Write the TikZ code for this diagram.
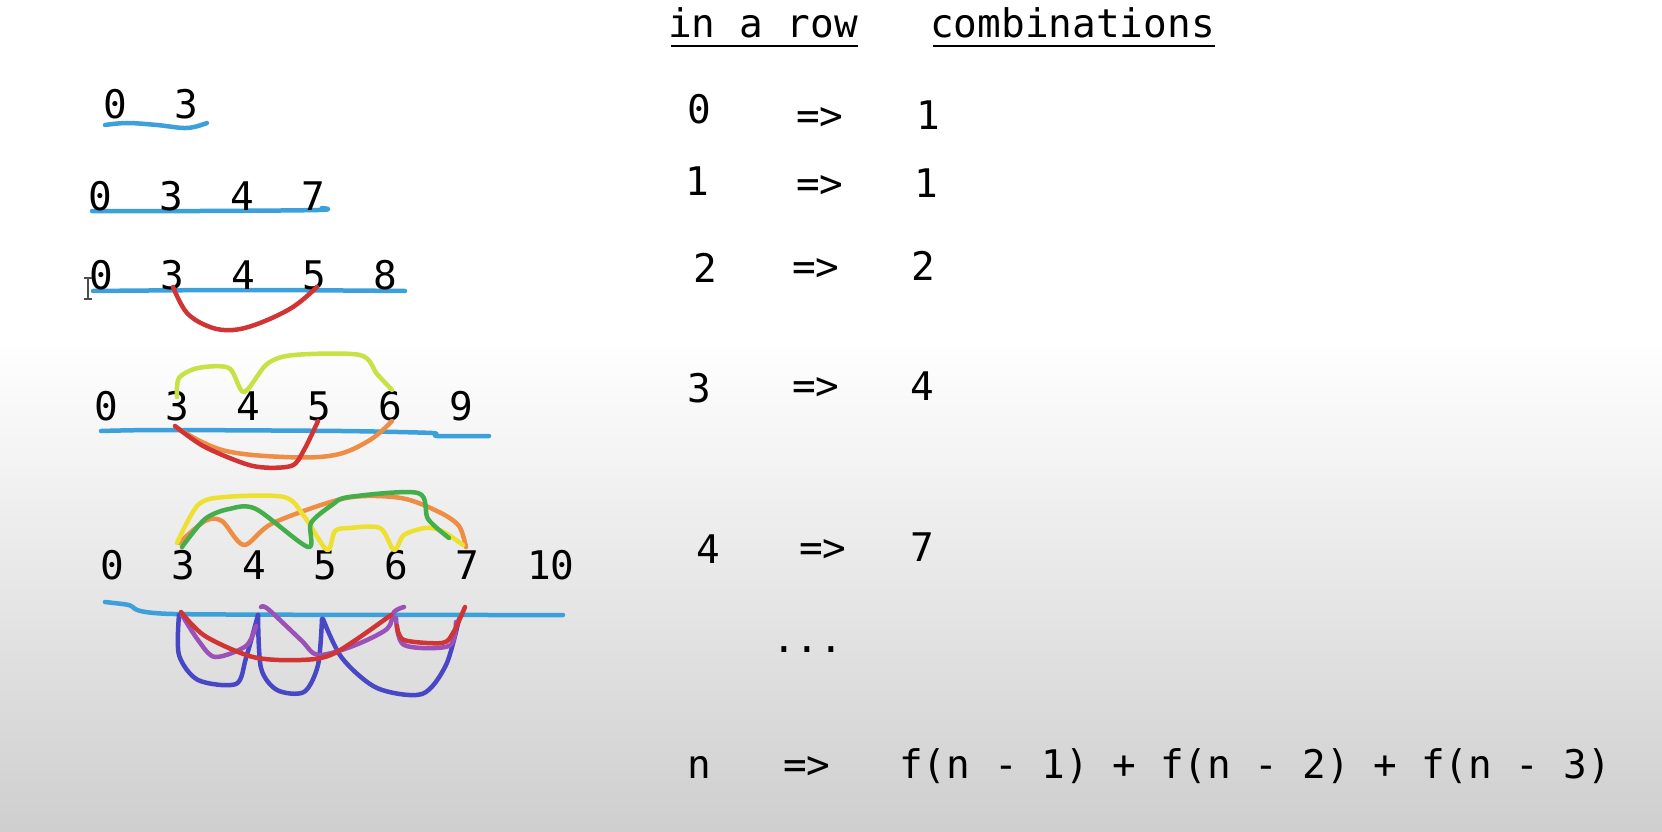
\documentclass[tikz,border=0pt]{standalone}
\usepackage{fontspec}
\newfontfamily\mono{DejaVu Sans Mono}
\definecolor{lblue}{HTML}{3CA0DA}
\definecolor{pred}{HTML}{D03434}
\definecolor{plime}{HTML}{C6E244}
\definecolor{porange}{HTML}{EE8E46}
\definecolor{pyellow}{HTML}{EEE030}
\definecolor{pgreen}{HTML}{44AE4A}
\definecolor{ppurple}{HTML}{9A52B6}
\definecolor{pviolet}{HTML}{4848C6}
\begin{document}
\begin{tikzpicture}[x=1pt,y=-1pt,
  txt/.style={font=\mono\fontsize{39.4}{47}\selectfont, inner sep=0pt, anchor=base west},
  ink/.style={line width=4.5pt, line cap=round, line join=round},
  uline/.style={line width=2.5pt}]
\useasboundingbox (0,0) rectangle (1662,832);
\fill[white] (0,0) rectangle (1662,341);
\shade[top color=white, bottom color=black!19] (0,340) rectangle (1662,832);

% blue base lines
\draw[ink, lblue] plot[smooth, tension=0.6] coordinates {(105,125) (127,123) (157,125) (187,128) (207,123)};
\draw[ink, lblue] plot[smooth, tension=0.6] coordinates {(92,211) (200,211) (318,210) (322,208)};
\draw[ink, lblue] plot[smooth, tension=0.6] coordinates {(93,291) (243,290) (405,291)};
\draw[ink, lblue] plot[smooth, tension=0.4] coordinates {(101,431) (160,430) (342,431) (432,433) (437,436) (489,436)};
\draw[ink, lblue] plot[smooth, tension=0.4] coordinates {(105,602) (129,605) (174,614) (563,615)};

% left rows
\node[txt] (r1) at (103,119) {0~~3};
\node[txt] (r2) at (88,210) {0~~3~~4~~7};
\node[txt] (r3) at (89,289) {0~~3~~4~~5~~8};
\node[txt] (r4) at (94,420) {0~~3~~4~~5~~6~~9};
\node[txt] (r5) at (100,579) {0~~3~~4~~5~~6~~7~~10};

% cursor
\draw[black!70, line width=1.2pt] (88,279) -- (88,298) (84,278) -- (92,278) (84,299) -- (92,299);

% row 3 arc
\draw[ink, pred] plot[smooth, tension=0.6] coordinates {(173,287) (187,313) (210,327) (233,330) (260,323) (293,307) (317,287)};

% row 4 arcs
\draw[ink, plime] plot[smooth, tension=0.5] coordinates {(177,397) (179,378) (198,368) (229,368) (244,392) (267,364) (294,355) (360,355) (377,374) (392,390)};
\draw[ink, porange] plot[smooth, tension=0.6] coordinates {(177,428) (222,450) (284,457) (335,455) (370,440) (392,421)};
\draw[ink, pred] plot[smooth, tension=0.5] coordinates {(175,426) (205,447) (253,466) (291,466) (304,450) (318,421)};

% row 5 arcs above
\draw[ink, porange] plot[smooth, tension=0.5] coordinates {(179,543) (205,521) (222,521) (244,545) (273,523) (346,498) (401,498) (439,512) (459,526) (466,547)};
\draw[ink, pyellow] plot[smooth, tension=0.5] coordinates {(177,543) (198,505) (225,497) (284,497) (304,516) (327,550) (335,531) (349,528) (380,528) (394,550) (404,535) (425,528) (442,531) (463,545)};
\draw[ink, pgreen] plot[smooth, tension=0.5] coordinates {(182,547) (205,519) (229,509) (256,509) (308,547) (311,523) (332,505) (349,497) (418,493) (428,519) (449,538)};

% row 5 arcs below
\draw[ink, pviolet] plot[smooth, tension=0.5] coordinates {(179,615) (179,655) (198,680) (236,684) (246,658) (258,615)};
\draw[ink, pviolet] plot[smooth, tension=0.5] coordinates {(258,615) (261,668) (277,690) (304,692) (318,665) (322,619)};
\draw[ink, pviolet] plot[smooth, tension=0.5] coordinates {(323,619) (342,658) (377,688) (422,694) (446,665) (459,619)};
\draw[ink, ppurple] plot[smooth, tension=0.5] coordinates {(182,615) (198,640) (215,657) (246,646) (256,626)};
\draw[ink, ppurple] plot[smooth, tension=0.5] coordinates {(261,607) (268,609) (301,640) (318,655) (353,646) (387,629) (394,612) (404,607)};
\draw[ink, ppurple] plot[smooth, tension=0.5] coordinates {(396,618) (404,645) (449,646) (456,622)};
\draw[ink, pred] plot[smooth, tension=0.5] coordinates {(181,612) (205,636) (253,657) (301,660) (335,653) (391,615)};
\draw[ink, pred] plot[smooth, tension=0.5] coordinates {(397,626) (404,640) (442,643) (453,633) (465,607)};

% right header
\node[txt] (h1) at (668,38) {in~a~row};
\node[txt] (h2) at (930,38) {combinations};
\draw[uline] ([shift={(3pt,-8pt)}]h1.base west) -- ([yshift=-8pt]h1.base east);
\draw[uline] ([shift={(3pt,-8pt)}]h2.base west) -- ([yshift=-8pt]h2.base east);

% right table
\node[txt] (a0) at (687,124) {0};
\node[txt] (e0) at (796,130) {=>};
\node[txt] (c0) at (916,130) {1};
\node[txt] (a1) at (685,195) {1};
\node[txt] (e1) at (796,197) {=>};
\node[txt] (c1) at (914,197) {1};
\node[txt] (a2) at (693,282) {2};
\node[txt] (e2) at (792,280) {=>};
\node[txt] (c2) at (911,280) {2};
\node[txt] (a3) at (687,402) {3};
\node[txt] (e3) at (792,399) {=>};
\node[txt] (c3) at (910,400) {4};
\node[txt] (a4) at (696,563) {4};
\node[txt] (e4) at (799,561) {=>};
\node[txt] (c4) at (910,561) {7};
\node[txt] (dd) at (772,652) {...};
\node[txt] (an) at (687,778) {n};
\node[txt] (en) at (783,778) {=>};
\node[txt] (cn) at (899,778) {f(n~-~1)~+~f(n~-~2)~+~f(n~-~3)};
\end{tikzpicture}
\end{document}
